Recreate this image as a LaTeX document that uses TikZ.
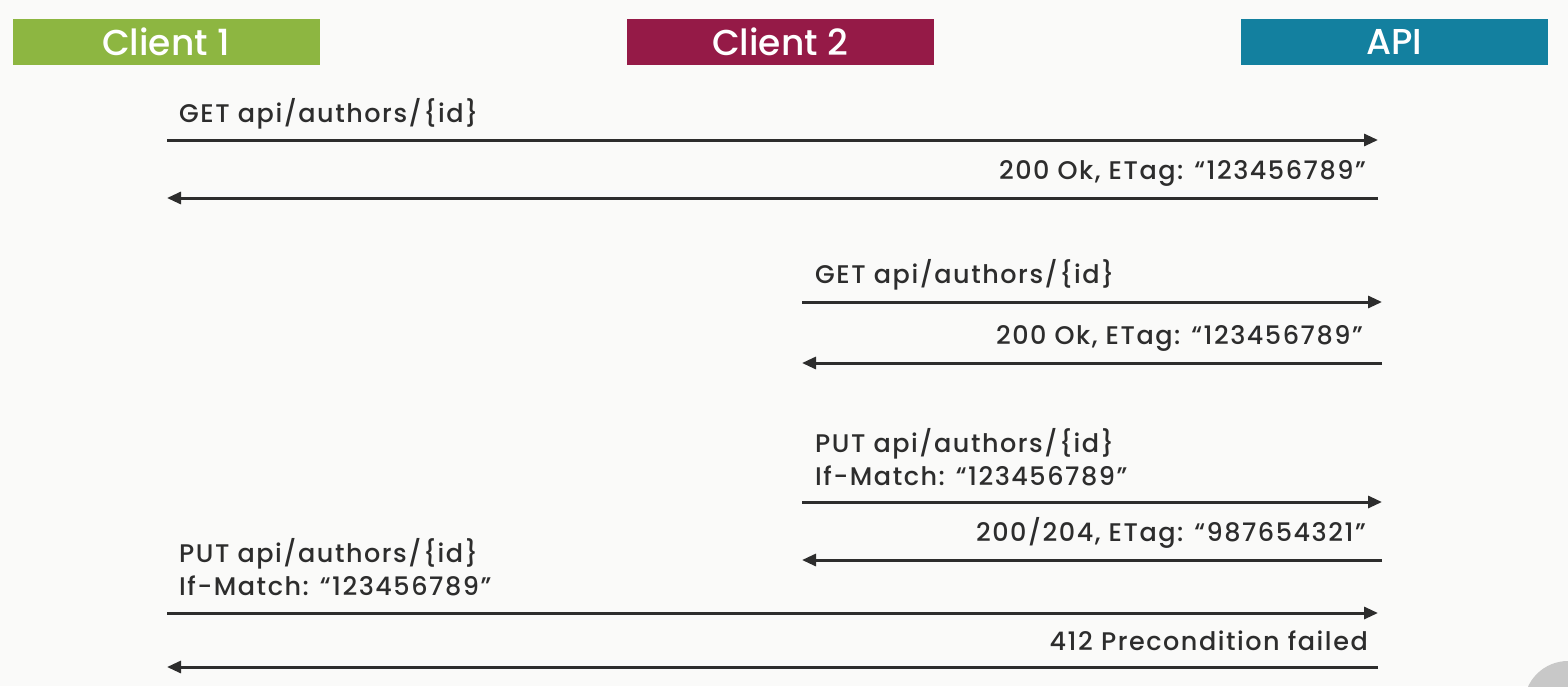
\documentclass[tikz,border=0pt]{standalone}
\usepackage{fontspec}
\setmainfont{Poppins Medium}
\newfontfamily\lblfont{Poppins Medium}[LetterSpace=6]
\usetikzlibrary{arrows.meta}
\definecolor{bg}{HTML}{FAFAF9}
\definecolor{cgreen}{HTML}{8DB641}
\definecolor{cred}{HTML}{951A47}
\definecolor{cteal}{HTML}{13809F}
\definecolor{ink}{HTML}{2D2D2D}
\definecolor{playgray}{HTML}{C8C8C8}
\begin{document}
\begin{tikzpicture}[x=1pt,y=-1pt,
  header/.style={fill=#1, draw=none, minimum width=307pt, minimum height=46pt, inner sep=0pt,
     text=white, font=\fontsize{36}{36}\selectfont},
  msg/.style={draw=ink, line width=3pt, -{Triangle[length=14pt,width=12pt]}, shorten >=-2pt},
  lbl/.style={text=ink, inner sep=0pt, font=\lblfont\fontsize{25.5}{33}\selectfont, align=left},
  rlbl/.style={lbl, anchor=base east},
  llbl/.style={lbl, anchor=base west}]
\fill[bg] (0,0) rectangle (1568,686);
\useasboundingbox (0,0) rectangle (1568,686);

\node[header=cgreen] (c1) at (166,42) {Client 1};
\node[header=cred] (c2) at (780,42) {Client 2};
\node[header=cteal] (api) at (1394,42) {API};

% lane end points
\coordinate (m1s) at (167,140);  \coordinate (m1e) at (1376,140);
\coordinate (m2s) at (1378,198); \coordinate (m2e) at (169,198);
\coordinate (m3s) at (802,302);  \coordinate (m3e) at (1380,302);
\coordinate (m4s) at (1382,363); \coordinate (m4e) at (804,363);
\coordinate (m5s) at (802,502);  \coordinate (m5e) at (1380,502);
\coordinate (m6s) at (1382,560); \coordinate (m6e) at (804,560);
\coordinate (m7s) at (167,613);  \coordinate (m7e) at (1376,613);
\coordinate (m8s) at (1378,667); \coordinate (m8e) at (169,667);

\draw[msg] (m1s) -- (m1e);
\draw[msg] (m2s) -- (m2e);
\draw[msg] (m3s) -- (m3e);
\draw[msg] (m4s) -- (m4e);
\draw[msg] (m5s) -- (m5e);
\draw[msg] (m6s) -- (m6e);
\draw[msg] (m7s) -- (m7e);
\draw[msg] (m8s) -- (m8e);

\node[llbl] (l1) at (179,122) {GET api/authors/\{id\}};
\node[rlbl] (l2) at (1366,179) {200 Ok, ETag: “123456789”};
\node[llbl] (l3) at (815,283) {GET api/authors/\{id\}};
\node[rlbl] (l4) at (1363,344) {200 Ok, ETag: “123456789”};
\node[llbl] (l5) at (815,485) {PUT api/authors/\{id\}\\If-Match: “123456789”};
\node[rlbl] (l6) at (1366,541) {200/204, ETag: “987654321”};
\node[llbl] (l7) at (179,595) {PUT api/authors/\{id\}\\If-Match: “123456789”};
\node[rlbl] (l8) at (1368,650) {412 Precondition failed};

% video player overlay in the corner
\fill[playgray] (1568,705) circle (44);
\end{tikzpicture}
\end{document}
